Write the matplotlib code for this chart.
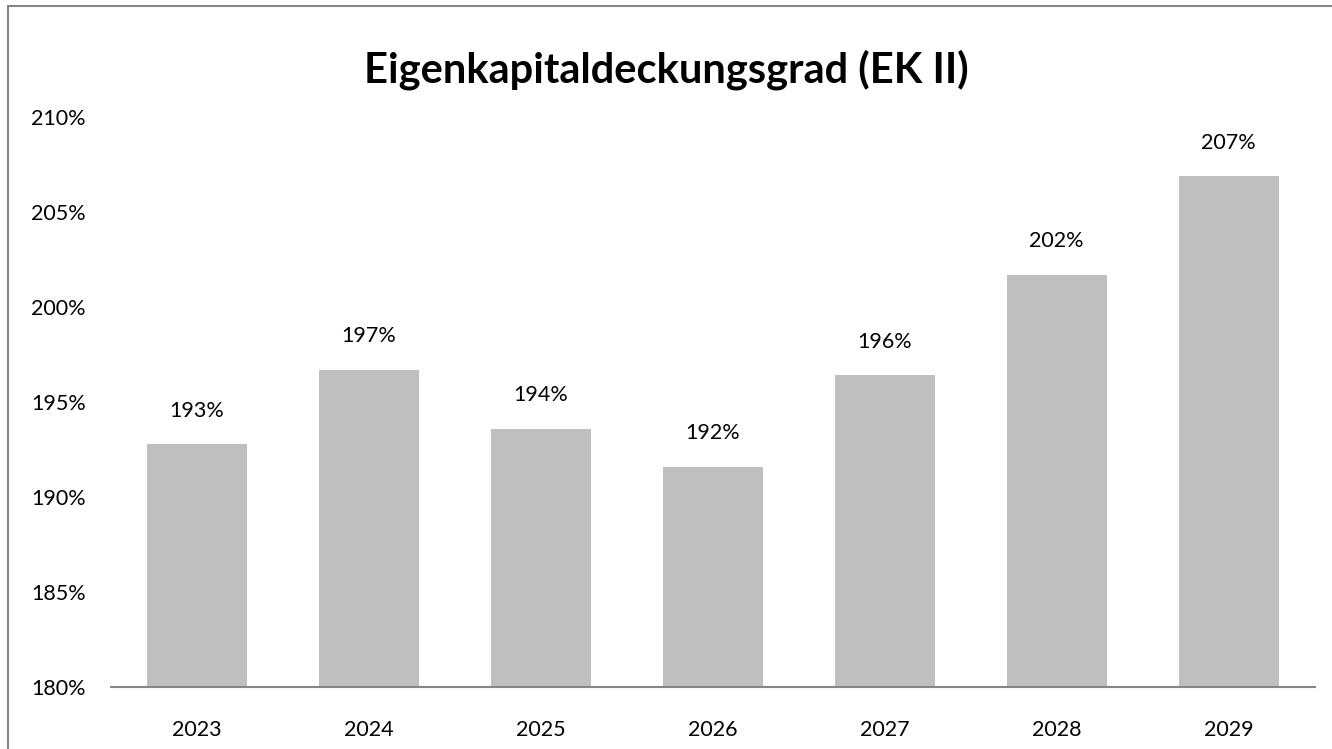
import matplotlib.pyplot as plt
from matplotlib.patches import Rectangle

plt.rcParams['font.family'] = ['Lato', 'DejaVu Sans']

jahre = ['2023', '2024', '2025', '2026', '2027', '2028', '2029']
werte = [192.8, 196.7, 193.6, 191.6, 196.4, 201.7, 206.9]
beschriftung = ['193%', '197%', '194%', '192%', '196%', '202%', '207%']

fig = plt.figure(figsize=(13.32, 7.49), dpi=100)
ax = fig.add_axes([0.0833, 0.0828, 0.9037, 0.761])

x = range(len(jahre))
ax.bar(x, [w - 180 for w in werte], bottom=180, width=0.58, color='#bfbfbf')
for i, w in enumerate(werte):
    ax.text(i, w + 1.75, beschriftung[i], ha='center', va='center', fontsize=15.5)

ax.set_xlim(-0.5, len(jahre) - 0.5)
ax.set_ylim(180, 210)
ax.set_xticks(list(x))
ax.set_xticklabels(jahre, fontsize=15.5)
ax.set_yticks(range(180, 211, 5))
ax.set_yticklabels([f'{v}%' for v in range(180, 211, 5)], fontsize=15.5)
ax.tick_params(axis='x', length=0, pad=24)
ax.tick_params(axis='y', length=0, pad=18)
for s in ['top', 'right', 'left']:
    ax.spines[s].set_visible(False)
ax.spines['bottom'].set_color('#868686')
ax.spines['bottom'].set_linewidth(1.5)

fig.text(0.5, 0.907, 'Eigenkapitaldeckungsgrad (EK II)', ha='center', va='center',
         fontsize=30, fontweight='bold')

fig.patches.append(Rectangle((8 / 1332, -0.1), 1.0, 1.1 - 6 / 749, transform=fig.transFigure,
                             fill=False, edgecolor='#868686', linewidth=1.5))

fig.savefig('out.png', dpi=100)
